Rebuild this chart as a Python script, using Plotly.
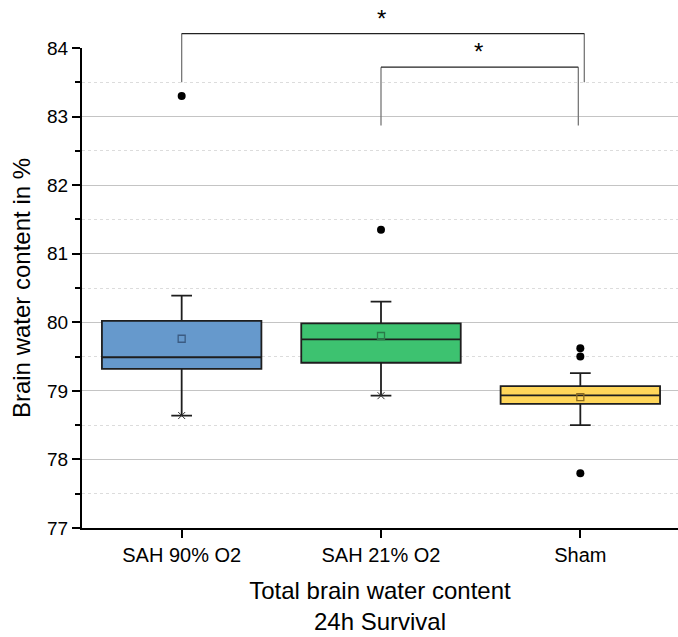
import plotly.graph_objects as go

categories = ["SAH 90% O2", "SAH 21% O2", "Sham"]
q1 = [79.32, 79.41, 78.81]
median = [79.49, 79.75, 78.935]
q3 = [80.02, 79.985, 79.07]
lower_whisker = [78.64, 78.93, 78.50]
upper_whisker = [80.39, 80.30, 79.26]
means = [79.76, 79.80, 78.91]
outliers = [[83.30], [81.35], [79.62, 79.50, 77.80]]
min_markers = [78.64, 78.93, None]
fill_colors = ["#6699cc", "#3dc270", "#ffd65a"]
mean_colors = ["#3b5b82", "#2a7a48", "#8a6a20"]

# significance brackets: (x_left, x_right, y_left_bottom, y_top, y_right_bottom, star_x, star_y)
brackets = [
    (0.0, 2.02, 83.50, 84.21, 83.50, 1.0, 84.49),
    (1.0, 1.99, 82.87, 83.72, 82.87, 1.49, 84.02),
]

Y_MIN, Y_MAX = 77, 84

fig = go.Figure()
for i, c in enumerate(categories):
    fig.add_trace(go.Box(
        x=[i], q1=[q1[i]], median=[median[i]], q3=[q3[i]],
        lowerfence=[lower_whisker[i]], upperfence=[upper_whisker[i]],
        boxpoints=False, width=0.8, whiskerwidth=0.13,
        fillcolor=fill_colors[i], line=dict(color="#1e1e1e", width=1.8),
        hoverinfo="skip", showlegend=False,
    ))
    fig.add_trace(go.Scatter(
        x=[i], y=[means[i]], mode="markers",
        marker=dict(symbol="square-open", size=7, color=mean_colors[i], line=dict(width=1.3)),
        showlegend=False, hoverinfo="skip",
    ))
    fig.add_trace(go.Scatter(
        x=[i] * len(outliers[i]), y=outliers[i], mode="markers",
        marker=dict(symbol="circle", size=8, color="black"),
        showlegend=False, hoverinfo="skip",
    ))
    if min_markers[i] is not None:
        fig.add_trace(go.Scatter(
            x=[i], y=[min_markers[i]], mode="markers",
            marker=dict(symbol="x-thin-open", size=7, color="#333333", line=dict(width=1, color="#333333")),
            showlegend=False, hoverinfo="skip",
        ))

def paper(v):
    return (v - Y_MIN) / (Y_MAX - Y_MIN)

shapes = []
annotations = []
for (xl, xr, yl, yt, yr, sx, sy) in brackets:
    shapes.append(dict(type="line", xref="x", yref="paper", x0=xl, x1=xl, y0=paper(yl), y1=paper(yt),
                       line=dict(color="#777777", width=1.3)))
    shapes.append(dict(type="line", xref="x", yref="paper", x0=xr, x1=xr, y0=paper(yr), y1=paper(yt),
                       line=dict(color="#777777", width=1.3)))
    shapes.append(dict(type="line", xref="x", yref="paper", x0=xl, x1=xr, y0=paper(yt), y1=paper(yt),
                       line=dict(color="#222222", width=1.3)))
    annotations.append(dict(x=sx, y=paper(sy), xref="x", yref="paper", text="*", showarrow=False,
                            font=dict(size=24, color="black"), yshift=11))

fig.update_layout(
    width=678, height=637,
    margin=dict(l=82, r=0, t=48, b=109),
    paper_bgcolor="white", plot_bgcolor="white",
    font=dict(family="Liberation Sans, Arial, sans-serif", color="black"),
    shapes=shapes, annotations=annotations,
    xaxis=dict(
        range=[-0.5, 2.49], tickmode="array", tickvals=list(range(len(categories))), ticktext=categories,
        showline=True, linecolor="black", linewidth=2, ticks="outside", ticklen=8, tickwidth=2,
        tickcolor="black", tickfont=dict(size=20), showgrid=False, zeroline=False,
        title=dict(text="Total brain water content<br>24h Survival", font=dict(size=24), standoff=17),
    ),
    yaxis=dict(
        range=[Y_MIN, Y_MAX], dtick=1, showline=True, linecolor="black", linewidth=2,
        ticks="outside", ticklen=8, tickwidth=2, tickcolor="black", tickfont=dict(size=19),
        showgrid=True, gridcolor="#c4c4c4", gridwidth=1.3, zeroline=False,
        minor=dict(dtick=0.5, ticks="outside", ticklen=5, tickwidth=2, tickcolor="black",
                   showgrid=True, gridcolor="#dcdcdc", griddash="dot", gridwidth=1),
        title=dict(text="Brain water content in %", font=dict(size=24), standoff=10),
    ),
)

fig.write_html("out.html")
